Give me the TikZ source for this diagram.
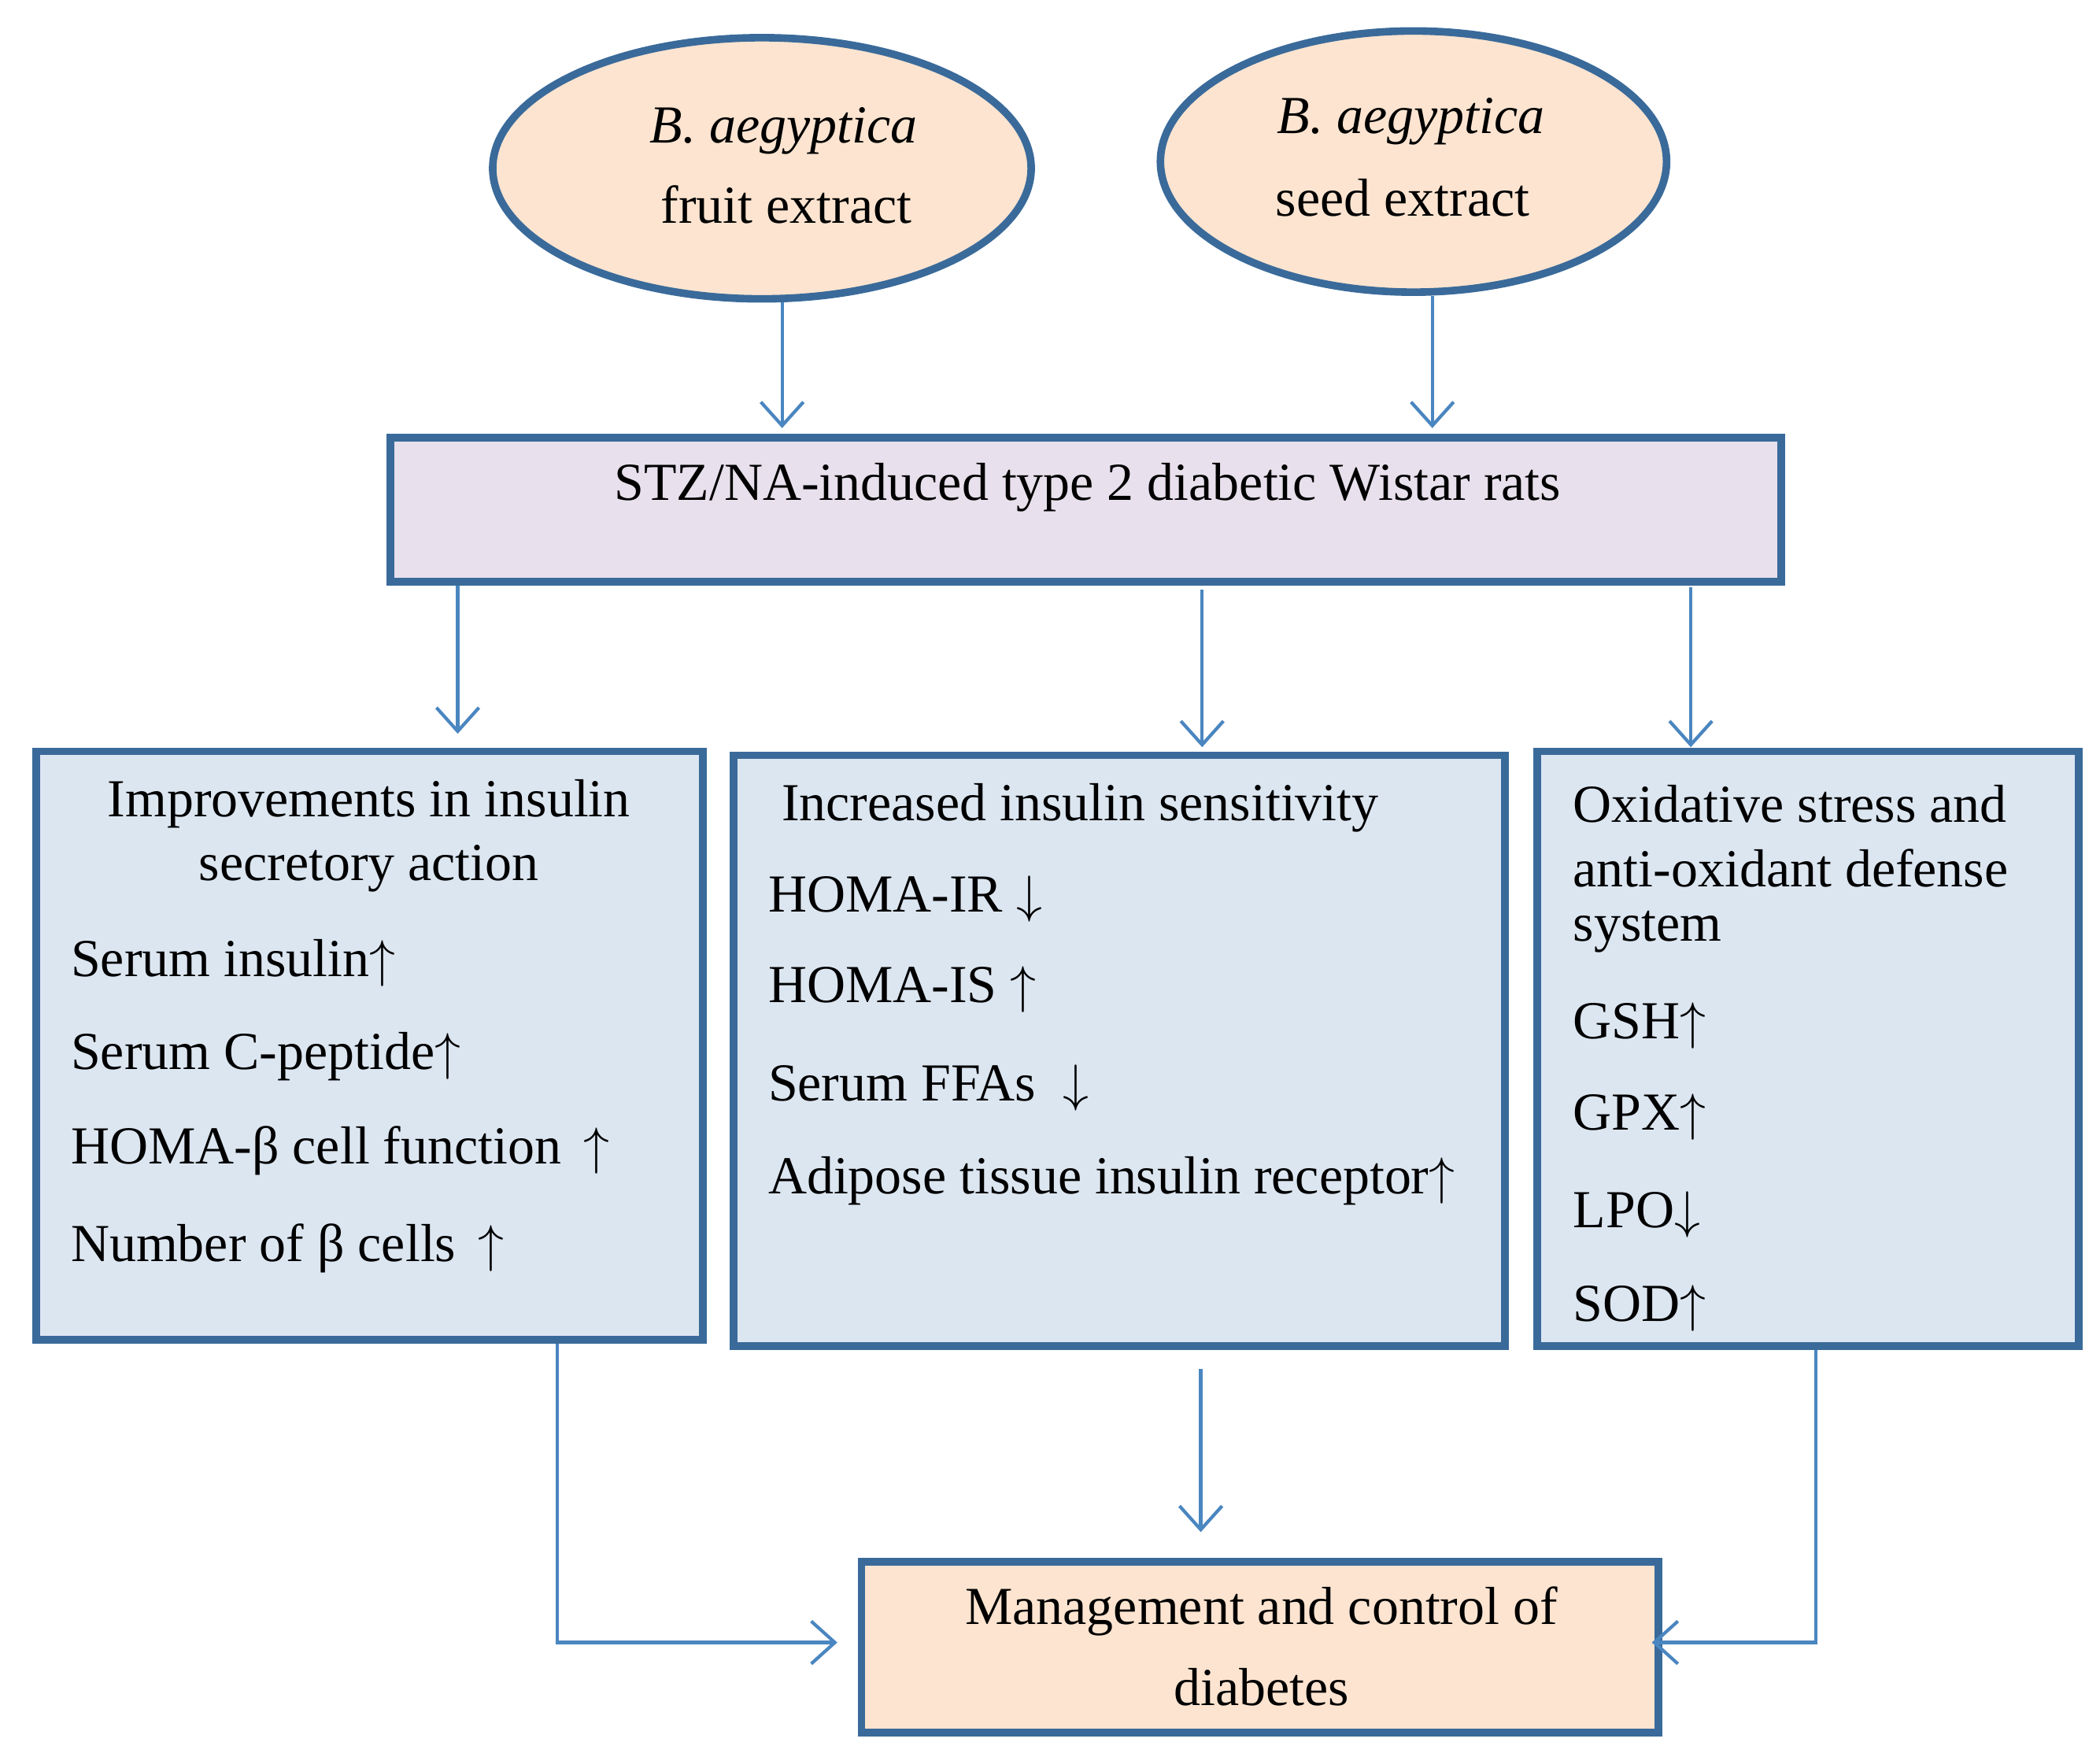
\documentclass[tikz,border=0pt]{standalone}
\usepackage{fontspec}
\setmainfont{Liberation Serif}
\usetikzlibrary{arrows.meta,shapes.geometric}
\definecolor{peach}{HTML}{FCE4D0}
\definecolor{lav}{HTML}{E8E0EC}
\definecolor{lblue}{HTML}{DCE6F1}
\definecolor{bord}{HTML}{3A6A9A}
\definecolor{arr}{HTML}{4A86C0}
\tikzset{
 box/.style={draw=bord,line width=1.6pt,inner sep=0pt},
 conn/.style={draw=arr,line width=0.7pt,-{Straight Barb[length=5pt,width=9pt]}},
 txt/.style={font=\fontsize{11.3}{13.5}\selectfont,inner sep=0pt,anchor=west},
 ctxt/.style={font=\fontsize{11.3}{13.5}\selectfont,inner sep=0pt,align=center}
}
\begin{document}
\begin{tikzpicture}
\useasboundingbox (0,0) rectangle (15.6,-13.05);
% ellipses
\node[box,ellipse,fill=peach,minimum width=4.0cm,minimum height=1.94cm] (e1) at (5.66,-1.25) {};
\node[box,ellipse,fill=peach,minimum width=3.76cm,minimum height=1.94cm] (e2) at (10.5,-1.20) {};
\node[ctxt] (e1a) at (5.82,-0.97) {\itshape B. aegyptica};
\node[ctxt] (e1b) at (5.84,-1.52) {fruit extract};
\node[ctxt] (e2a) at (10.48,-0.90) {\itshape B. aegyptica};
\node[ctxt] (e2b) at (10.42,-1.47) {seed extract};
% STZ box
\node[box,fill=lav,minimum width=10.33cm,minimum height=1.07cm] (stz) at (8.065,-3.785) {};
\node[ctxt] (stzt) at (8.08,-3.62) {STZ/NA-induced type 2 diabetic Wistar rats};
% three boxes
\node[box,fill=lblue,minimum width=4.95cm,minimum height=4.37cm] (b1) at (2.745,-7.765) {};
\node[box,fill=lblue,minimum width=5.73cm,minimum height=4.39cm] (b2) at (8.315,-7.805) {};
\node[box,fill=lblue,minimum width=4.02cm,minimum height=4.42cm] (b3) at (13.43,-7.79) {};
% bottom box
\node[box,fill=peach,minimum width=5.92cm,minimum height=1.27cm] (bot) at (9.36,-12.235) {};
\node[ctxt] (bt1) at (9.37,-11.97) {Management and control of};
\node[ctxt] (bt2) at (9.37,-12.53) {diabetes};
% box1 text
\node[ctxt] (t11) at (2.74,-5.97) {Improvements in insulin};
\node[ctxt] (t12) at (2.74,-6.45) {secretory action};
\node[txt] (t13) at (0.52,-7.15) {Serum insulin$\uparrow$};
\node[txt] (t14) at (0.52,-7.85) {Serum C-peptide$\uparrow$};
\node[txt] (t15) at (0.52,-8.55) {HOMA-β cell function \,$\uparrow$};
\node[txt] (t16) at (0.52,-9.27) {Number of β cells \,$\uparrow$};
% box2 text
\node[txt] (t21) at (5.80,-6.00) {Increased insulin sensitivity};
\node[txt] (t22) at (5.70,-6.68) {HOMA-IR $\downarrow$};
\node[txt] (t23) at (5.70,-7.35) {HOMA-IS $\uparrow$};
\node[txt] (t24) at (5.70,-8.08) {Serum FFAs \ $\downarrow$};
\node[txt] (t25) at (5.70,-8.77) {Adipose tissue insulin receptor$\uparrow$};
% box3 text
\node[txt] (t31) at (11.68,-5.97) {Oxidative stress and};
\node[txt] (t32) at (11.68,-6.45) {anti-oxidant defense};
\node[txt] (t33) at (11.68,-6.92) {system};
\node[txt] (t34) at (11.68,-7.62) {GSH$\uparrow$};
\node[txt] (t35) at (11.68,-8.30) {GPX$\uparrow$};
\node[txt] (t36) at (11.68,-9.02) {LPO$\downarrow$};
\node[txt] (t37) at (11.68,-9.72) {SOD$\uparrow$};
% connectors
\coordinate (a1) at (5.81,-3.18); \coordinate (a2) at (10.64,-3.18);
\draw[conn] (e1.south -| a1) -- (a1);
\draw[conn] (e2.south -| a2) -- (a2);
\coordinate (c1) at (3.40,-5.45); \coordinate (c2) at (8.93,-5.55); \coordinate (c3) at (12.56,-5.55);
\draw[conn] (stz.south -| c1) -- (c1);
\draw[conn] (8.93,-4.38) -- (c2);
\draw[conn] (12.56,-4.36) -- (c3);
\coordinate (d1) at (6.22,-12.20); \coordinate (d2) at (8.92,-11.38); \coordinate (d3) at (12.27,-12.20);
\draw[conn] (b1.south -| 4.14,0) |- (d1);
\draw[conn] (8.92,-10.17) -- (d2);
\draw[conn] (b3.south -| 13.49,0) |- (d3);
\end{tikzpicture}
\end{document}
